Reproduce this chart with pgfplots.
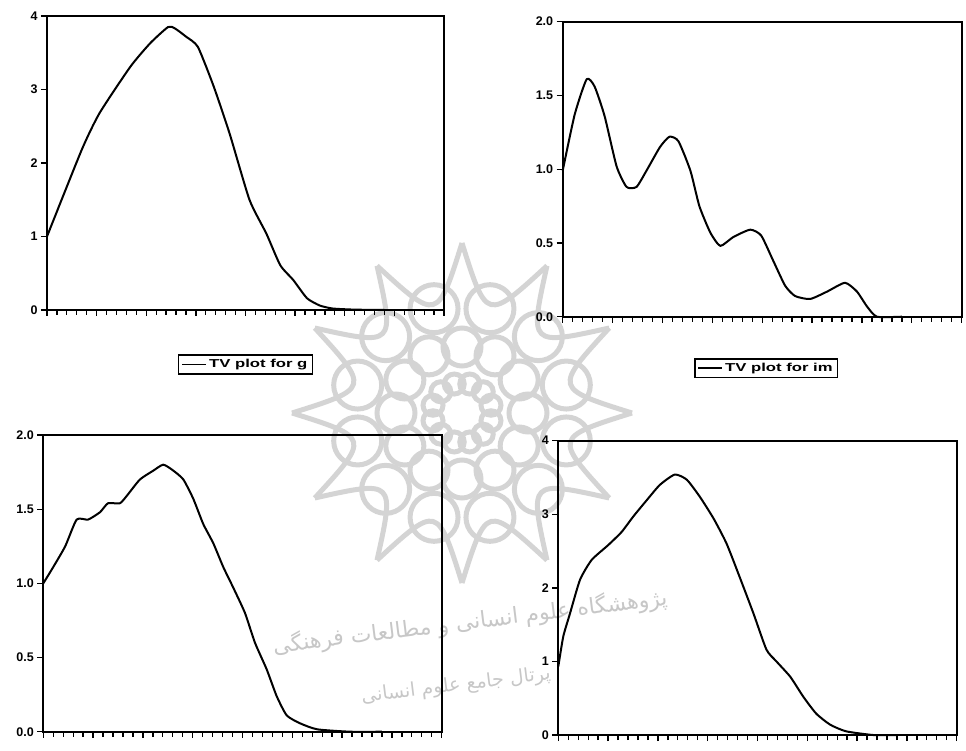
\documentclass[border=0pt]{standalone}
\usepackage{fontspec}
\setmainfont{Liberation Sans}
\newfontfamily\legfont[FakeStretch=1.45]{Liberation Sans}
\newfontfamily\arabicfont[Script=Arabic]{DejaVu Sans}
\TeXXeTstate=1
\usepackage{pgfplots}
\pgfplotsset{compat=1.18}

\pgfplotsset{
  tvaxis/.style={
    scale only axis,
    anchor=south west,
    xmin=0, xmax=40,
    xtick distance=5, minor x tick num=4,
    xticklabel=\empty,
    tick align=outside,
    xtick pos=bottom, ytick pos=left,
    major tick length=6pt, minor tick length=5pt,
    axis line style={line width=2.2pt},
    every tick/.style={black, line width=1.3pt},
    yticklabel style={font=\fontsize{12.5}{14}\selectfont\bfseries},
    /pgf/number format/assume math mode=true,
    clip=false,
    legend style={draw=black, line width=1.6pt, anchor=north,
      font=\legfont\bfseries\fontsize{11.5}{13}\selectfont,
      inner xsep=3pt, inner ysep=2.5pt},
    legend image code/.code={\draw[line width=1.5pt] (0pt,0pt) -- (24pt,0pt);},
  },
  onedec/.style={yticklabel style={/pgf/number format/.cd, fixed, fixed zerofill, precision=1}},
  tvline/.style={black, line width=2pt, line join=round, smooth, tension=0.35, mark=none},
}

\begin{document}
\begin{tikzpicture}
\useasboundingbox (0pt,0pt) rectangle (966pt,750pt);

% watermark (faint rosette and text of the scan)
\begin{scope}[shift={(462pt,337pt)}, black!17, line width=5pt]
  \foreach \k in {0,...,11} {
    \pgfmathsetmacro\a{90+30*\k}
    \pgfmathsetmacro\b{120+30*\k}
    \pgfmathsetmacro\c{105+30*\k}
    \draw (\a:170pt) .. controls (\c:95pt) .. (\b:170pt);
    \draw (\c:108pt) circle[radius=24pt];
    \draw (\a:66pt) circle[radius=19pt];
    \draw (\c:30pt) circle[radius=10pt];
  }
\end{scope}
\node[rotate=7, black!22, font=\arabicfont\fontsize{22}{26}\selectfont] at (470pt,128pt)
  {\beginR پژوهشگاه علوم انسانی و مطالعات فرهنگی\endR};
\node[rotate=7, black!22, font=\arabicfont\fontsize{19}{22}\selectfont] at (456pt,64pt)
  {\beginR پرتال جامع علوم انسانی\endR};

% top left
\begin{axis}[tvaxis, at={(47pt,440pt)}, width=397pt, height=294pt,
  ymin=0, ymax=4, ytick={0,1,2,3,4},
  legend style={at={(0.5,-0.15)}}]
\addplot[tvline] coordinates {
 (0,1.0) (3.5,2.18) (5.3,2.68) (8.4,3.31) (10.4,3.63) (12.2,3.85) (12.9,3.83)
 (14.0,3.72) (15.2,3.58) (16.8,3.04) (18.4,2.40) (20.4,1.50) (22.1,1.04)
 (23.5,0.61) (24.8,0.41) (26.2,0.16) (27.5,0.06) (28.8,0.02) (31,0.005) (34,0.0)
};
\addlegendentry{TV plot for g}
\end{axis}

% top right
\begin{axis}[tvaxis, onedec, at={(562.7pt,433.3pt)}, width=399pt, height=295pt,
  ymin=0, ymax=2, ytick={0,0.5,1,1.5,2},
  legend style={at={(0.51,-0.14)}}]
\addplot[tvline] coordinates {
 (0,0.99) (1.2,1.37) (2.4,1.61) (3.2,1.56) (4.2,1.36) (5.4,1.02) (6.4,0.88)
 (7.4,0.88) (8.4,0.99) (9.75,1.15) (10.7,1.22) (11.6,1.19) (12.8,0.99)
 (13.7,0.75) (14.8,0.57) (15.8,0.48) (17.1,0.54) (18.8,0.59) (19.9,0.55)
 (21.1,0.38) (22.3,0.21) (23.3,0.14) (24.8,0.12) (26.5,0.17) (28.3,0.23)
 (29.5,0.17) (30.5,0.07) (31.5,0.0) (34,0.0)
};
\addlegendentry{TV plot for im}
\end{axis}

% bottom left
\begin{axis}[tvaxis, onedec, at={(43.3pt,18.3pt)}, width=398.4pt, height=296.7pt,
  ymin=0, ymax=2, ytick={0,0.5,1,1.5,2}]
\addplot[tvline] coordinates {
 (0,1.0) (1.0,1.11) (2.2,1.25) (3.35,1.43) (4.5,1.43) (5.7,1.48) (6.5,1.54)
 (7.7,1.54) (8.5,1.60) (9.7,1.70) (11.05,1.76) (12.05,1.80) (13.05,1.76)
 (14.06,1.70) (15.06,1.57) (16.06,1.40) (17.07,1.27) (18.07,1.11) (19.08,0.97)
 (20.25,0.80) (21.25,0.60) (22.43,0.42) (23.43,0.24) (24.44,0.11) (25.8,0.056)
 (27.5,0.016) (30.8,0.0) (34,0.0)
};
\end{axis}

% bottom right
\begin{axis}[tvaxis, at={(558.3pt,15pt)}, width=398.4pt, height=294.3pt,
  ymin=0, ymax=4, ytick={0,1,2,3,4}]
\addplot[tvline] coordinates {
 (0,0.93) (0.5,1.34) (1.17,1.65) (2.18,2.11) (3.35,2.38) (5.0,2.58) (6.36,2.76)
 (7.53,2.97) (8.87,3.19) (10.2,3.40) (11.7,3.54) (12.9,3.47) (14.2,3.24)
 (15.6,2.94) (16.9,2.60) (18.2,2.15) (19.6,1.65) (20.9,1.16) (21.9,1.00)
 (23.3,0.79) (24.6,0.52) (25.9,0.29) (27.3,0.14) (28.9,0.05) (31.6,0.0) (34,0.0)
};
\end{axis}
\end{tikzpicture}
\end{document}
